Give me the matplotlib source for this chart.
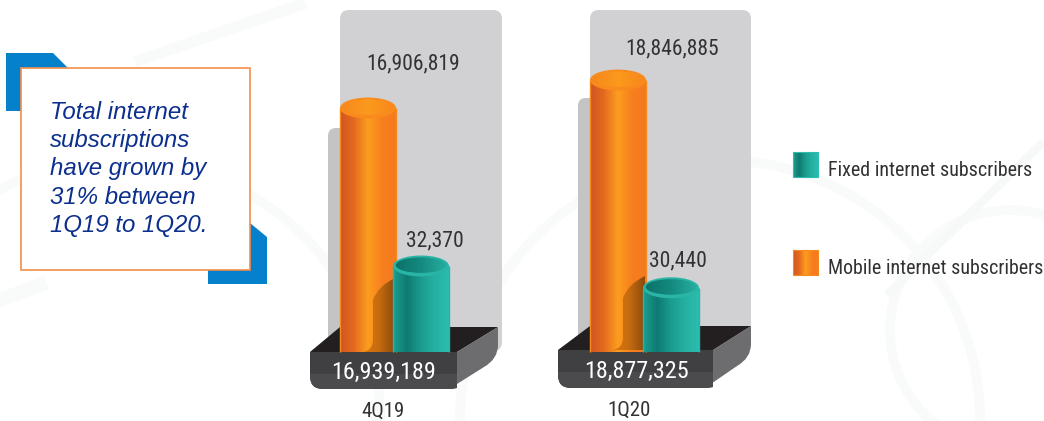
import matplotlib
matplotlib.use("Agg")
import numpy as np
import matplotlib.pyplot as plt
from matplotlib import font_manager as fm
from matplotlib.colors import LinearSegmentedColormap
from matplotlib.patches import Ellipse, FancyBboxPatch, PathPatch, Polygon, Rectangle, Arc
from matplotlib.path import Path

# --- Data ---
quarters = ['4Q19', '1Q20']
mobile_subs = [16906819, 18846885]
fixed_subs = [32370, 30440]
totals = [16939189, 18877325]
# teal cylinders are not to scale in the original, heights read off in millions
fixed_drawn_height = [5.96, 4.45]
fixed_label = 'Fixed internet subscribers'
mobile_label = 'Mobile internet subscribers'
callout = 'Total internet\nsubscriptions\nhave grown by\n31% between\n1Q19 to 1Q20.'

# --- Layout constants (pixels) ---
W, H = 1044, 421
PX_PER_MILLION = 14.43
GROUP_STEP = 250
BASELINE = 352
BAR_W = 56

ORANGE = ['#cf5522', '#e56a1e', '#fc9e1f', '#f87f1e', '#f47a20']
ORANGE_TOP = ['#f7861c', '#fb9a1d', '#f9851c']
TEAL = ['#1c9f91', '#0e7a70', '#1a9c8e', '#25b0a1', '#2bbdae']
TEAL_TOP = ['#0c6f67', '#148a7e', '#27b1a2']
installed = {f.name for f in fm.fontManager.ttflist}
NARROW = [f for f in ['Roboto Condensed', 'Liberation Sans Narrow', 'Liberation Sans'] if f in installed]

fig = plt.figure(figsize=(W / 100, H / 100), dpi=100, facecolor='white')

back = fig.add_axes([0, 0, 1, 1], zorder=1)
ax = fig.add_axes([0, 0, 1, 1], zorder=2)
front = fig.add_axes([0, 0, 1, 1], zorder=3)
for a in (back, front):
    a.set_xlim(0, W)
    a.set_ylim(H, 0)
    a.axis('off')
ax.axis('off')
ax.patch.set_alpha(0)
front.patch.set_alpha(0)


def gradient(a, x0, x1, y0, y1, colors, clip, zorder):
    cmap = LinearSegmentedColormap.from_list('g', colors)
    im = a.imshow(np.linspace(0, 1, 256).reshape(1, -1), cmap=cmap, aspect='auto',
                  extent=(x0, x1, y0, y1), zorder=zorder, interpolation='bilinear')
    im.set_clip_path(clip)
    return im


def cylinder(a, x, height, colors, top_colors, rim, zorder):
    w = BAR_W / GROUP_STEP
    ry = 10.5 / PX_PER_MILLION
    body = Path([(x, 0), (x, height), (x + w, height), (x + w, 0), (x, 0)])
    clip = PathPatch(body, transform=a.transData)
    gradient(a, x, x + w, 0, height, colors, clip, zorder)
    a.plot([x, x], [0, height], color=rim, lw=1, zorder=zorder + 0.05, solid_capstyle='butt')
    a.plot([x + w, x + w], [0, height], color=rim, lw=1, zorder=zorder + 0.05, solid_capstyle='butt')
    a.add_patch(Ellipse((x + w / 2, height), w, 2 * ry, fc=rim, ec='none', zorder=zorder + 0.1))
    inner = Ellipse((x + w / 2, height + ry * 0.08), w * 0.9, 2 * ry * 0.74, fc='none', ec='none',
                    transform=a.transData)
    gradient(a, x, x + w, height - ry, height + ry, top_colors, inner, zorder + 0.2)


# --- Faint background pattern ---
for cx, cy, d in [(1010, 330, 240), (720, 420, 520), (120, 420, 520)]:
    back.add_patch(Arc((cx, cy), d, d, theta1=0, theta2=360, color='#f9fafa', lw=7))
back.plot([1040, 890], [145, 292], color='#f7f8f8', lw=6)
back.plot([140, 300], [60, 5], color='#f9fafa', lw=8)
back.plot([0, 40], [300, 285], color='#f9fafa', lw=10)

# --- Callout box ---
back.add_patch(Polygon([(6, 53), (53, 53), (68, 68), (68, 111), (6, 111)], fc='#0581cb', ec='none'))
back.add_patch(Polygon([(208, 284), (267, 284), (267, 237), (250, 223), (208, 223)], fc='#0581cb', ec='none'))
back.add_patch(Rectangle((21, 68), 229, 202, fc='white', ec='#f58d4c', lw=1.2))
back.text(50, 169, callout, family='Liberation Sans', style='italic', fontsize=17.3, color='#0c2f8e',
          va='center', ha='left', linespacing=1.29)

# --- Stage geometry for each group ---
stages = [
    {'panel': (340, 502, 10), 'left': (328, 128), 'base': (310, 340, 498, 457, 352, 327, 389)},
    {'panel': (590, 751, 10), 'left': (578, 98), 'base': (558, 590, 751, 713, 350, 326, 388)},
]
total_pos = [(384, 372), (637, 371)]
quarter_pos = [(383, 411), (629, 410)]
mobile_pos = [(413, 64), (672, 49)]
fixed_pos = [(435, 241), (678, 261)]

for i, st in enumerate(stages):
    px0, px1, ptop = st['panel']
    lx, ltop = st['left']
    fl, bl, br, fr, yf, yb, yz = st['base']

    back.add_patch(FancyBboxPatch((lx + 6, ltop + 6), 30, yf - ltop - 10, boxstyle='round,pad=6,rounding_size=8',
                                  fc='#c4c4c6', ec='none'))
    back.add_patch(FancyBboxPatch((px0 + 8, ptop + 8), px1 - px0 - 16, yb + 8 - ptop, boxstyle='round,pad=8,rounding_size=9',
                                  fc='#d1d1d3', ec='none'))
    # base: top, side, front
    back.add_patch(Polygon([(fl, yf), (bl, yb), (br, yb), (fr, yf)], fc='#231f20', ec='none'))
    side = Path([(fr, yf), (br, yb), (br, yb + 18), (br, yb + 32), (br - 14, yb + 40), (fr - 8, yz), (fr, yf)],
                [Path.MOVETO, Path.LINETO, Path.LINETO, Path.CURVE3, Path.CURVE3, Path.LINETO, Path.CLOSEPOLY])
    back.add_patch(PathPatch(side, fc='#6d6d6f', ec='none'))
    r = 13
    face = Path([(fl, yf), (fr, yf), (fr, yz - 1), (fr - 6, yz), (fl + r, yz), (fl, yz), (fl, yz - r), (fl, yf)],
                [Path.MOVETO, Path.LINETO, Path.LINETO, Path.LINETO, Path.LINETO, Path.CURVE3, Path.CURVE3, Path.CLOSEPOLY])
    fp = PathPatch(face, fc='#403f41', ec='none', zorder=2)
    back.add_patch(fp)
    band = Rectangle((fl, yf + 22), fr - fl, yz - yf - 22, fc='#4b4a4c', ec='none', zorder=2.1)
    back.add_patch(band)
    band.set_clip_path(fp)

    # cylinders, orange then shadow then teal
    x = float(i)
    cylinder(ax, x, mobile_subs[i] / 1e6, ORANGE, ORANGE_TOP, '#f98b1c', 3)
    sx = lx + 45
    shadow = Path([(sx - 10, yf), (sx + 22, yf), (sx + 22, yf - 74), (sx + 5, yf - 66), (sx, yf - 52),
                   (sx, yf - 12), (sx, yf - 2), (sx - 10, yf), (sx - 10, yf)],
                  [Path.MOVETO, Path.LINETO, Path.LINETO, Path.CURVE3, Path.CURVE3,
                   Path.LINETO, Path.CURVE3, Path.CURVE3, Path.CLOSEPOLY])
    sp = PathPatch(shadow, transform=front.transData, fc='none', ec='none')
    x_left = 340 + i * GROUP_STEP
    shade = ax.imshow(np.linspace(0, 1, 64).reshape(1, -1),
                      cmap=LinearSegmentedColormap.from_list('s', ['#d9780f', '#c66c10', '#8c4a0c']), aspect='auto',
                      extent=(x + (sx - 10 - x_left) / GROUP_STEP, x + (sx + 22 - x_left) / GROUP_STEP, 0, 6),
                      zorder=4, interpolation='bilinear')
    shade.set_clip_path(sp)
    cylinder(ax, x + 53 / GROUP_STEP, fixed_drawn_height[i], TEAL, TEAL_TOP, '#29b5a6', 5)

    # labels
    front.text(*mobile_pos[i], f'{mobile_subs[i]:,}', family=NARROW, fontsize=15.5, color='#333132', ha='center', va='center')
    front.text(*fixed_pos[i], f'{fixed_subs[i]:,}', family=NARROW, fontsize=15.6, color='#333132', ha='center', va='center')
    front.text(*total_pos[i], f'{totals[i]:,}', family=NARROW, fontsize=17.4, color='white', ha='center', va='center')
    front.text(*quarter_pos[i], quarters[i], family=NARROW, fontsize=15, color='#333132', ha='center', va='center')

ax.set_xlim(-340 / GROUP_STEP, (W - 340) / GROUP_STEP)
ax.set_ylim(-(H - BASELINE) / PX_PER_MILLION, BASELINE / PX_PER_MILLION)
back.set_xlim(0, W)
back.set_ylim(H, 0)

# --- Legend ---
for y, colors, edge, label in [(152, TEAL, '#2bbdae', fixed_label), (250, ORANGE, '#f58a1f', mobile_label)]:
    swatch = Rectangle((793, y), 25, 25, fc='none', ec='none', transform=front.transData)
    front.add_patch(swatch)
    gradient(front, 793, 818, y + 25, y, colors, swatch, 3)
    front.add_patch(Rectangle((793, y), 25, 25, fc='none', ec=edge, lw=0.8, zorder=4))
    front.text(828, y + 18, label, family=NARROW, fontsize=14.4, color='#333132', ha='left', va='center')
front.set_xlim(0, W)
front.set_ylim(H, 0)

fig.savefig('out.png', dpi=100)
